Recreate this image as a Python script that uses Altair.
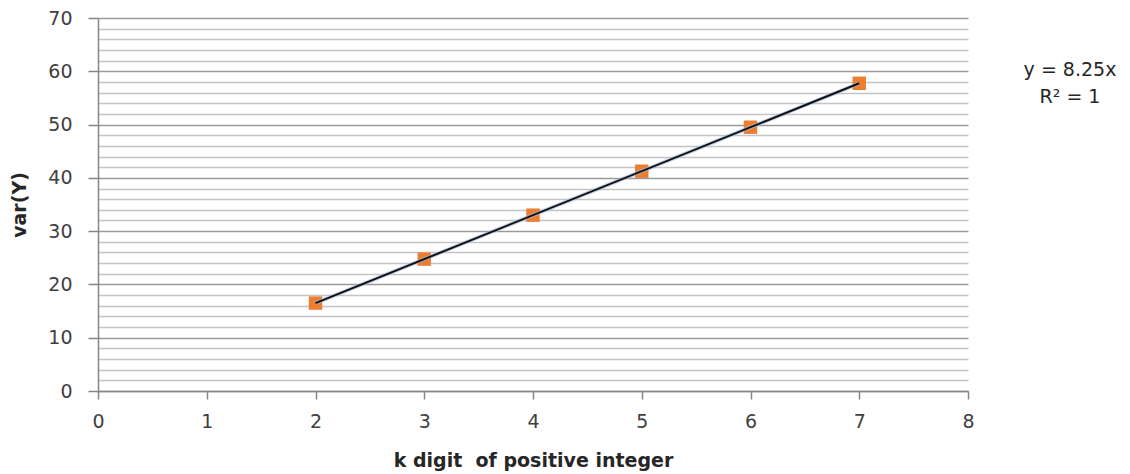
import altair as alt
import pandas as pd

k_digits = [2, 3, 4, 5, 6, 7]
var_y = [16.5, 24.75, 33.0, 41.25, 49.5, 57.75]
x_ticks = [0, 1, 2, 3, 4, 5, 6, 7, 8]
y_ticks = list(range(0, 72, 2))
equation_lines = ["y = 8.25x", "R² = 1"]

df = pd.DataFrame({"k": k_digits, "v": var_y})

FONT = "DejaVu Sans"
LABEL_COLOR = "#404040"

x_enc = alt.X(
    "k:Q",
    scale=alt.Scale(domain=[0, 8], nice=False),
    axis=alt.Axis(
        values=x_ticks,
        format="d",
        title="k digit\u00a0 of positive integer",
        grid=False,
        tickSize=8,
        labelPadding=13,
        titlePadding=20,
        labelOverlap=False,
        labelFlush=False,
        domainColor="#868686",
        tickColor="#868686",
    ),
)

y_enc = alt.Y(
    "v:Q",
    scale=alt.Scale(domain=[0, 70], nice=False),
    axis=alt.Axis(
        values=y_ticks,
        format="d",
        title="var(Y)",
        grid=True,
        gridColor={"condition": {"test": "datum.value % 10 === 0", "value": "#9a9a9a"}, "value": "#c4c4c4"},
        gridWidth=1.3,
        tickOpacity={"condition": {"test": "datum.value % 10 === 0", "value": 1}, "value": 0},
        labelExpr="datum.value % 10 === 0 ? datum.label : ''",
        labelOverlap=False,
        labelFlush=False,
        tickSize=10,
        labelPadding=16,
        titlePadding=18,
        domainColor="#868686",
        tickColor="#868686",
    ),
)

points = alt.Chart(df).mark_square(size=180, color="#ED7D31", opacity=1).encode(x=x_enc, y=y_enc)

trend_base = alt.Chart(df).transform_regression("k", "v", extent=[2, 7])
trend_glow = trend_base.mark_line(color="#9db8de", strokeWidth=4, opacity=0.6).encode(x=x_enc, y=y_enc)
trend = trend_base.mark_line(color="#111111", strokeWidth=2).encode(x=x_enc, y=y_enc)

eq_df = pd.DataFrame({"t": equation_lines, "i": [0, 1]})
eq1 = alt.Chart(eq_df).transform_filter("datum.i == 0").mark_text(
    font=FONT, fontSize=19, color="#262626", align="center", baseline="middle"
).encode(text="t:N", x=alt.value(972), y=alt.value(52))
eq2 = alt.Chart(eq_df).transform_filter("datum.i == 1").mark_text(
    font=FONT, fontSize=19, color="#262626", align="center", baseline="middle"
).encode(text="t:N", x=alt.value(972), y=alt.value(79))

chart = alt.layer(points, trend_glow, trend, eq1, eq2).properties(
    width=870,
    height=373,
    autosize="none",
    padding={"left": 90, "top": 10, "right": 154, "bottom": 83},
).configure_view(stroke=None).configure_axis(
    labelFont=FONT,
    labelFontSize=19,
    labelColor=LABEL_COLOR,
    titleFont=FONT,
    titleFontSize=19,
    titleFontWeight="bold",
    titleColor="#262626",
    domainWidth=1.5,
    tickWidth=1.5,
)

chart.save("out.html", embed_options={"renderer": "svg", "actions": False})
